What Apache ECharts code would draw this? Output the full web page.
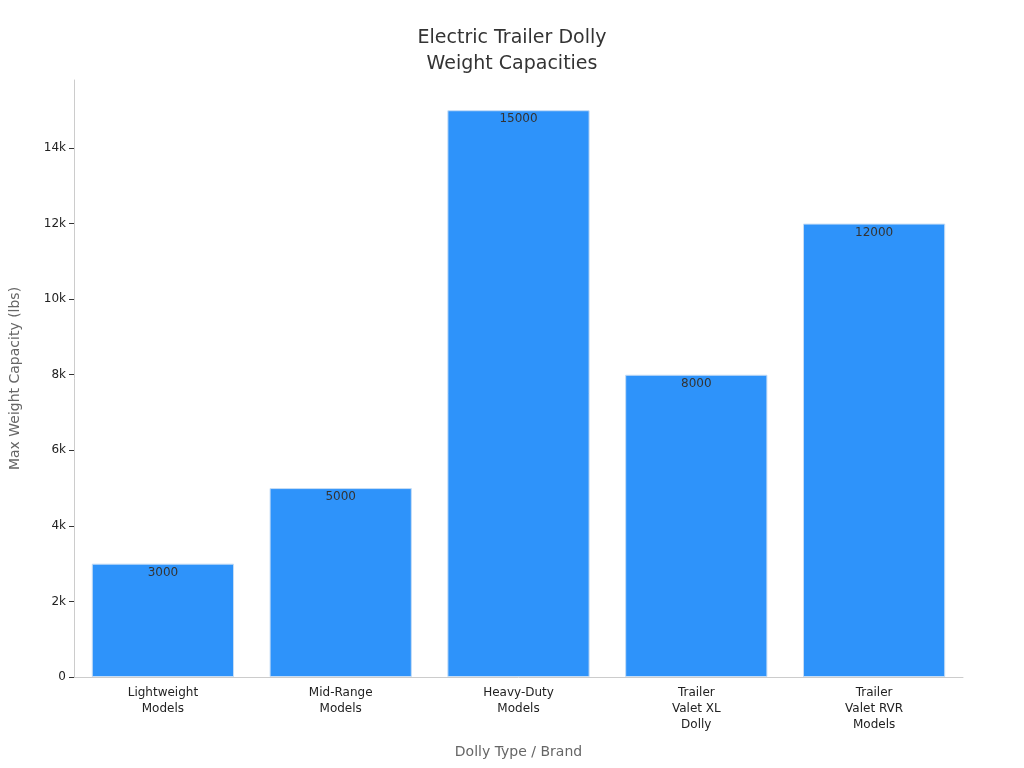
<!DOCTYPE html>
<html><head><meta charset="utf-8">
<script src="https://cdn.jsdelivr.net/npm/echarts@6/dist/echarts.min.js"></script>
<style>html,body{margin:0;padding:0;background:#fff}#c{width:1024px;height:768px}</style>
</head><body><div id="c"></div>
<script>
const categories = ["Lightweight\nModels","Mid-Range\nModels","Heavy-Duty\nModels","Trailer\nValet XL\nDolly","Trailer\nValet RVR\nModels"];
const capacities = [3000,5000,15000,8000,12000];
const chart = echarts.init(document.getElementById('c'));
chart.setOption({
  animation:false,
  textStyle:{fontFamily:'DejaVu Sans'},
  title:{text:'Electric Trailer Dolly\nWeight Capacities',left:'center',top:20,
    textStyle:{fontSize:19,fontWeight:'normal',color:'#333',lineHeight:26,fontFamily:'DejaVu Sans'}},
  grid:{left:67,right:61,top:80,bottom:91},
  xAxis:{type:'category',data:categories,name:'Dolly Type / Brand',nameLocation:'middle',nameGap:68,
    nameTextStyle:{fontSize:14,color:'#666'},
    axisLine:{lineStyle:{color:'#ccc'}},axisTick:{alignWithLabel:true,lineStyle:{color:'#333'}},
    axisLabel:{fontSize:12,color:'#222',lineHeight:16,interval:0}},
  yAxis:{type:'value',min:0,max:15800,interval:2000,name:'Max Weight Capacity (lbs)',nameLocation:'middle',nameGap:52,
    nameTextStyle:{fontSize:14,color:'#666'},
    axisLine:{show:true,lineStyle:{color:'#ccc'}},axisTick:{show:true,lineStyle:{color:'#333'}},splitLine:{show:false},
    axisLabel:{fontSize:12,color:'#222',showMaxLabel:false,formatter:v=>v===0?'0':(v/1000)+'k'}},
  series:[{type:'bar',data:capacities,barCategoryGap:'20%',
    itemStyle:{color:'#2E93FA',borderColor:'#c6ddf5',borderWidth:1},
    label:{show:true,position:'insideTop',color:'#333',fontSize:12,offset:[0,-2]}}]
});
</script></body></html>
